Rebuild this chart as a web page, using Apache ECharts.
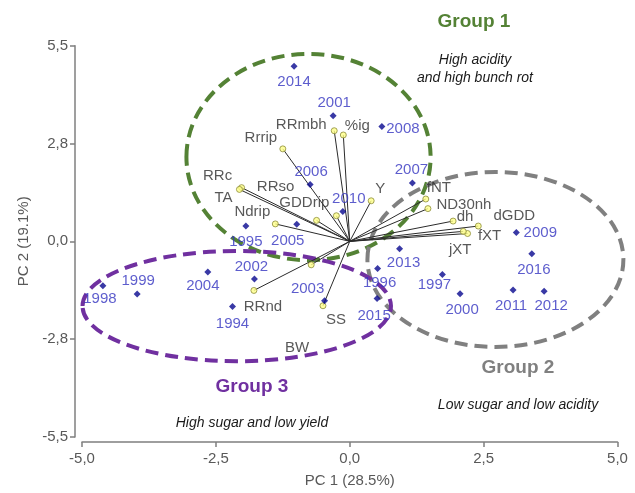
<!DOCTYPE html>
<html><head><meta charset="utf-8">
<script src="https://cdn.jsdelivr.net/npm/echarts@6/dist/echarts.min.js"></script>
<style>html,body{margin:0;padding:0;background:#fff}#c{width:635px;height:493px}</style>
</head><body><div id="c"></div>
<script>
// ---- data ----
const years   = ['2014','2001','2008','2006','2007','2010','2005','1995','2013','1996','1997','2000','2011','2012','2009','2016','2015','1998','1999','2004','2002','1994','2003'];
const yearPC1 = [-1.04,-0.31,0.60,-0.74,1.17,-0.13,-0.99,-1.94,0.93,0.52,1.73,2.06,3.05,3.63,3.11,3.40,0.51,-4.61,-3.97,-2.65,-1.78,-2.19,-0.47];
const yearPC2 = [4.92,3.53,3.23,1.60,1.64,0.84,0.48,0.43,-0.21,-0.76,-0.93,-1.47,-1.37,-1.40,0.25,-0.35,-1.61,-1.25,-1.48,-0.86,-1.06,-1.83,-1.67];

const variables = ['RRmbh','%ig','Rrrip','RRc','TA','Ndrip','RRso','GDDrip','Y','fNT','ND30nh','dh','dGDD','fXT','jXT','RRnd','SS','BW'];
const varPC1 = [-0.29,-0.12,-1.25,-2.02,-2.06,-1.39,-0.62,-0.25,0.40,1.42,1.46,1.93,2.40,2.20,2.12,-1.79,-0.50,-0.72];
const varPC2 = [3.11,2.99,2.60,1.51,1.46,0.49,0.59,0.72,1.14,1.19,0.92,0.57,0.43,0.22,0.28,-1.38,-1.81,-0.66];

const groupNames = ['Group 1','Group 2','Group 3'];
const groupNotes = [['High acidity','and high bunch rot'],['Low sugar and low acidity'],['High sugar and low yield']];
// group ellipses (centre and half-extent, PC units)
const groupCentrePC1 = [-0.77, 2.72, -2.11];
const groupCentrePC2 = [2.37, -0.51, -1.82];
const groupHalfPC1   = [2.28, 2.39, 2.88];
const groupHalfPC2   = [2.90, 2.46, 1.55];

const xTickStep = 2.5, yTickStep = 2.75;

// ---- label layout (pixel offsets of label centre from its marker) ----
const yearLabelOffset = [[0,16],[1,-13],[21,2],[1,-13],[-1,-13],[6,-13],[-9,17],[0,16],[4,14],[2,14],[-8,10],[2,16],[-2,16],[7,15],[24,0],[2,16],[-3,17],[-3,13],[1,-13],[-5,14],[-3,-12],[0,17],[-17,-12]];
const varLabelOffset = [[-33,-6],[14,-9],[-22,-11],[-24,-12],[-16,8],[-23,-12],[-41,-34],[-32,-13],[9,-12],[13,-11],[36,-4],[12,-4],[36,-10],[22,2],[-3,18],[9,16],[13,14],[-14,83]];
const groupColors = ['#548235','#808080','#7030a0'];
const FONT = 'Liberation Sans, Arial, sans-serif';

const chart = echarts.init(document.getElementById('c'), null, {renderer:'canvas'});
const fmt = v => v.toFixed(1).replace('.', ',');

const yearData = years.map((n,i)=>({name:n, value:[yearPC1[i], yearPC2[i]],
  label:{offset:yearLabelOffset[i]}}));
const varData = variables.map((n,i)=>({name:n, value:[varPC1[i], varPC2[i]],
  label:{offset:varLabelOffset[i]}}));
const ellData = groupNames.map((n,i)=>({name:n, value:[groupCentrePC1[i], groupCentrePC2[i], groupHalfPC1[i], groupHalfPC2[i]]}));

const graphics = [];
const titlePos = [[474,22],[518,368],[252,387]];
const notePos = [[[475,60],[475,78]],[[518,405]],[[252,423]]];
groupNames.forEach((g,i)=>{
  graphics.push({type:'text', x:titlePos[i][0], y:titlePos[i][1], style:{text:g, fill:groupColors[i], font:'bold 19px '+FONT, textAlign:'center', textVerticalAlign:'middle'}});
  groupNotes[i].forEach((t,j)=>{
    graphics.push({type:'text', x:notePos[i][j][0], y:notePos[i][j][1], style:{text:t, fill:'#1a1a1a', font:'italic 14px '+FONT, textAlign:'center', textVerticalAlign:'middle'}});
  });
});

const axisCommon = {
  type:'value',
  axisLine:{show:true, onZero:false, lineStyle:{color:'#7f7f7f', width:1.5}},
  axisTick:{show:true, length:5, lineStyle:{color:'#7f7f7f', width:1.5}},
  splitLine:{show:false},
  axisLabel:{color:'#595959', fontSize:15, fontFamily:FONT, formatter:fmt},
  nameLocation:'middle',
  nameTextStyle:{color:'#595959', fontSize:15, fontFamily:FONT}
};

chart.setOption({
  animation:false,
  backgroundColor:'#fff',
  grid:{left:82, right:17.5, top:45.7, bottom:52.3},
  xAxis:Object.assign({}, axisCommon, {min:-5, max:5, interval:xTickStep, offset:5, name:'PC 1 (28.5%)', nameGap:31,
    axisLabel:Object.assign({}, axisCommon.axisLabel, {margin:9})}),
  yAxis:Object.assign({}, axisCommon, {min:-5.5, max:5.5, interval:yTickStep, offset:7, name:'PC 2 (19.1%)', nameGap:41,
    axisLabel:Object.assign({}, axisCommon.axisLabel, {margin:7})}),
  graphic:graphics,
  series:[
    {type:'custom', z:1, data:ellData, silent:true,
      renderItem:(params, api)=>{
        const c = api.coord([api.value(0), api.value(1)]);
        const s = api.size([api.value(2), api.value(3)]);
        return {type:'ellipse', shape:{cx:c[0], cy:c[1], rx:s[0], ry:s[1]},
          style:{fill:'none', stroke:groupColors[params.dataIndex], lineWidth:4, lineDash:[13,7]}};
      }},
    {type:'custom', z:2, data:varData.map(d=>d.value), silent:true,
      renderItem:(params, api)=>{
        const o = api.coord([0,0]);
        const e = api.coord([api.value(0), api.value(1)]);
        return {type:'line', shape:{x1:o[0], y1:o[1], x2:e[0], y2:e[1]}, style:{stroke:'#2b2b2b', lineWidth:1}};
      }},
    {type:'scatter', z:3, data:varData, symbol:'circle', symbolSize:6,
      itemStyle:{color:'#ffff88', borderColor:'#8c8c3a', borderWidth:1},
      label:{show:true, position:'inside', formatter:'{b}', color:'#2e2e2e', fontSize:15, fontFamily:FONT}},
    {type:'scatter', z:4, data:yearData, symbol:'diamond', symbolSize:7,
      itemStyle:{color:'#08088f'},
      label:{show:true, position:'inside', formatter:'{b}', color:'#3434c0', fontSize:15, fontFamily:FONT}}
  ]
});
</script></body></html>
